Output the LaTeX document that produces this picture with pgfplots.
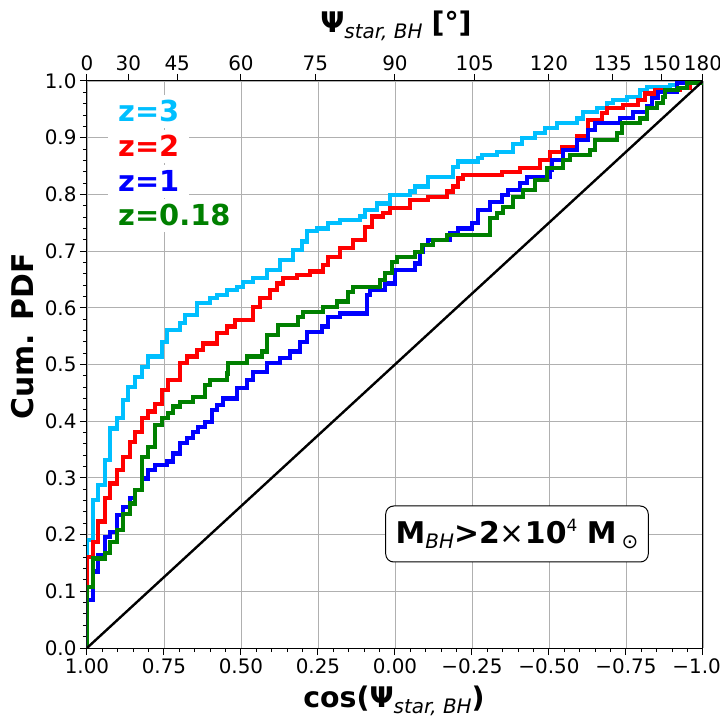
\documentclass[border=0pt]{standalone}
\usepackage{fontspec}
\setmainfont{DejaVu Sans}
\usepackage{pgfplots}
\pgfplotsset{compat=1.18}
\usetikzlibrary{calc}
\definecolor{cz3}{RGB}{0,191,255}
\definecolor{cz2}{RGB}{255,0,0}
\definecolor{cz1}{RGB}{0,0,255}
\definecolor{cz0}{RGB}{0,128,0}
\definecolor{gridc}{RGB}{176,176,176}
\begin{document}
\begin{tikzpicture}
\begin{axis}[name=ax, scale only axis, width=616bp, height=567bp,
 xmin=-1, xmax=1, ymin=0, ymax=1, x dir=reverse,
 xtick={-1,-0.75,-0.5,-0.25,0,0.25,0.5,0.75,1},
 xticklabels={−1.00,−0.75,−0.50,−0.25,0.00,0.25,0.50,0.75,1.00},
 ytick={0,0.1,0.2,0.3,0.4,0.5,0.6,0.7,0.8,0.9,1},
 yticklabels={0.0,0.1,0.2,0.3,0.4,0.5,0.6,0.7,0.8,0.9,1.0},
 minor x tick num=4, minor y tick num=4,
 xtick pos=bottom, ytick pos=left,
 tick align=outside,
 major tick length=7bp, minor tick length=4bp,
 tick style={black, line width=1bp},
 grid=major, major grid style={gridc, line width=0.8bp},
 axis line style={line width=1bp},
 tick label style={font=\fontsize{20}{24}\selectfont},
 /pgf/number format/assume math mode=true,
 const plot, every axis plot/.append style={line width=4.2bp},
]
\addplot[cz3] coordinates {(1,0) (1,0.19) (0.9815,0.261) (0.9633,0.287) (0.9416,0.332) (0.9253,0.387) (0.9036,0.405) (0.8821,0.437) (0.8659,0.461) (0.8442,0.478) (0.8224,0.496) (0.8010,0.514) (0.7575,0.540) (0.7412,0.561) (0.6981,0.573) (0.6818,0.587) (0.6438,0.608) (0.6006,0.617) (0.5789,0.623) (0.5464,0.631) (0.5140,0.637) (0.4925,0.646) (0.4601,0.652) (0.4166,0.667) (0.3734,0.684) (0.3302,0.702) (0.3029,0.717) (0.2867,0.735) (0.2542,0.740) (0.2166,0.749) (0.1786,0.755) (0.1136,0.761) (0.0974,0.772) (0.0594,0.784) (0.0162,0.799) (-0.0487,0.805) (-0.0649,0.814) (-0.1081,0.831) (-0.1893,0.849) (-0.2055,0.858) (-0.2705,0.864) (-0.2815,0.869) (-0.3302,0.875) (-0.3841,0.889) (-0.4114,0.899) (-0.4545,0.908) (-0.4870,0.917) (-0.5250,0.926) (-0.5899,0.934) (-0.6114,0.946) (-0.6549,0.952) (-0.6873,0.961) (-0.7088,0.966) (-0.7523,0.972) (-0.7955,0.984) (-0.8172,0.990) (-0.8929,0.993) (-0.9146,0.997) (-0.9578,1.0) (-1,1)};
\addplot[cz2] coordinates {(1,0) (1,0.161) (0.9815,0.1875) (0.9633,0.223) (0.9416,0.264) (0.9253,0.290) (0.9036,0.314) (0.8821,0.337) (0.8604,0.364) (0.8442,0.381) (0.8224,0.405) (0.8010,0.417) (0.7792,0.431) (0.7575,0.455) (0.7360,0.473) (0.6981,0.502) (0.6763,0.514) (0.6438,0.526) (0.6224,0.537) (0.5789,0.555) (0.5464,0.567) (0.5195,0.578) (0.4601,0.602) (0.4383,0.617) (0.4058,0.631) (0.3841,0.643) (0.3627,0.652) (0.3192,0.658) (0.2760,0.664) (0.2328,0.675) (0.2166,0.690) (0.1786,0.705) (0.1354,0.720) (0.0974,0.743) (0.0757,0.761) (0.0380,0.767) (0.0162,0.776) (-0.0487,0.790) (-0.1081,0.796) (-0.1679,0.805) (-0.1893,0.814) (-0.2055,0.828) (-0.2218,0.834) (-0.3464,0.840) (-0.4058,0.846) (-0.4708,0.861) (-0.5032,0.875) (-0.5412,0.884) (-0.5899,0.902) (-0.6276,0.931) (-0.6711,0.943) (-0.6873,0.952) (-0.7412,0.958) (-0.7899,0.966) (-0.8117,0.978) (-0.8442,0.984) (-0.9253,0.987) (-0.9578,0.996) (-1,1)};
\addplot[cz1] coordinates {(1,0) (1,0.085) (0.9815,0.135) (0.9633,0.164) (0.9416,0.196) (0.9253,0.205) (0.9036,0.235) (0.8821,0.249) (0.8604,0.264) (0.8442,0.279) (0.8224,0.299) (0.8010,0.314) (0.7792,0.323) (0.7412,0.329) (0.7198,0.343) (0.6981,0.361) (0.6763,0.370) (0.6549,0.381) (0.6386,0.390) (0.6169,0.399) (0.5951,0.420) (0.5789,0.429) (0.5575,0.440) (0.5140,0.458) (0.4815,0.473) (0.4601,0.487) (0.4166,0.502) (0.3734,0.511) (0.3409,0.523) (0.3084,0.540) (0.2867,0.558) (0.2380,0.567) (0.2166,0.584) (0.1786,0.590) (0.0919,0.623) (0.0812,0.631) (0.0325,0.643) (0.0000,0.667) (-0.0649,0.678) (-0.0812,0.699) (-0.0919,0.711) (-0.1081,0.720) (-0.1786,0.731) (-0.2055,0.740) (-0.2490,0.749) (-0.2705,0.772) (-0.3084,0.787) (-0.3464,0.799) (-0.3679,0.808) (-0.4058,0.820) (-0.4276,0.831) (-0.5032,0.843) (-0.5088,0.861) (-0.5464,0.878) (-0.5899,0.896) (-0.6276,0.914) (-0.6494,0.926) (-0.7305,0.935) (-0.7737,0.946) (-0.8172,0.955) (-0.8334,0.970) (-0.8549,0.981) (-0.9146,0.996) (-1,1)};
\addplot[cz0] coordinates {(1,0) (1,0.108) (0.9815,0.158) (0.9416,0.167) (0.9253,0.187) (0.9036,0.208) (0.8821,0.237) (0.8604,0.255) (0.8442,0.279) (0.8224,0.337) (0.8010,0.355) (0.7792,0.393) (0.7575,0.405) (0.7360,0.414) (0.7198,0.426) (0.6981,0.434) (0.6549,0.443) (0.6169,0.464) (0.6006,0.473) (0.5464,0.484) (0.5412,0.502) (0.4815,0.514) (0.4328,0.523) (0.4166,0.552) (0.3789,0.570) (0.3140,0.584) (0.2977,0.593) (0.2328,0.602) (0.1893,0.611) (0.1516,0.628) (0.1354,0.637) (0.0487,0.649) (0.0325,0.661) (0.0107,0.681) (-0.0055,0.690) (-0.0649,0.699) (-0.0867,0.711) (-0.1243,0.720) (-0.1679,0.728) (-0.3084,0.758) (-0.3302,0.767) (-0.3516,0.778) (-0.3841,0.796) (-0.4166,0.808) (-0.4545,0.825) (-0.4925,0.846) (-0.5464,0.861) (-0.5682,0.869) (-0.6331,0.878) (-0.6494,0.896) (-0.7198,0.908) (-0.7360,0.926) (-0.7955,0.934) (-0.8172,0.952) (-0.8497,0.961) (-0.8711,0.972) (-0.8766,0.984) (-0.9198,0.987) (-0.9471,0.996) (-1,1)};
\addplot[black, sharp plot, line width=2.4bp] coordinates {(1,0) (-1,1)};
\end{axis}
\begin{axis}[scale only axis, width=616bp, height=567bp,
 xmin=-1, xmax=1, ymin=0, ymax=1, x dir=reverse,
 axis x line*=top, axis y line=none, ytick=\empty,
 xtick={1,0.8660,0.7071,0.5,0.2588,0,-0.2588,-0.5,-0.7071,-0.8660,-1},
 xticklabels={0,30,45,60,75,90,105,120,135,150,180},
 tick align=outside, major tick length=7bp,
 tick style={black, line width=1bp},
 axis line style={line width=1bp},
 tick label style={font=\fontsize{20}{24}\selectfont},
 /pgf/number format/assume math mode=true,
]
\end{axis}
% legend
\foreach \lab/\col/\dy in {z=3/cz3/526, z=2/cz2/491, z=1/cz1/456, z=0.18/cz0/422}{
 \node[anchor=base west, fill=white, inner xsep=10bp, inner ysep=6bp, text=\col,
   font=\fontsize{29}{34}\selectfont\bfseries] at ($(ax.south west)+(21bp,\dy bp)$) {\lab};
}
% annotation
\node[draw, rounded corners=8bp, fill=white, line width=1bp, inner xsep=10bp, minimum height=56bp,
  font=\fontsize{30}{36}\selectfont] at ($(ax.south west)+(430bp,114bp)$)
  {\textbf{M}\raisebox{-5bp}{\fontsize{20}{20}\selectfont\itshape BH}\textbf{>2}×\textbf{10}\raisebox{12bp}{\fontsize{17}{17}\selectfont 4}\ \textbf{M}\,\raisebox{-5bp}{\fontsize{20}{20}\selectfont ⊙}};
% axis labels
\node[anchor=base, rotate=90, font=\fontsize{30}{36}\selectfont\bfseries] at ($(ax.south west)+(-53.5bp,311.5bp)$) {Cum. PDF};
\node[anchor=base, font=\fontsize{28.5}{34}\selectfont] at ($(ax.south west)+(307bp,-59bp)$)
  {\textbf{cos(Ψ}\raisebox{-6bp}{\fontsize{20}{20}\selectfont\itshape star, BH}\textbf{)}};
\node[anchor=base, font=\fontsize{28.5}{34}\selectfont] at ($(ax.south west)+(309bp,615bp)$)
  {\textbf{Ψ}\raisebox{-6bp}{\fontsize{20}{20}\selectfont\itshape star, BH}\ \textbf{[°]}};
\pgfresetboundingbox
\path ($(ax.south west)+(-87bp,-72bp)$) rectangle ($(ax.north east)+(17bp,81bp)$);
\end{tikzpicture}
\end{document}
